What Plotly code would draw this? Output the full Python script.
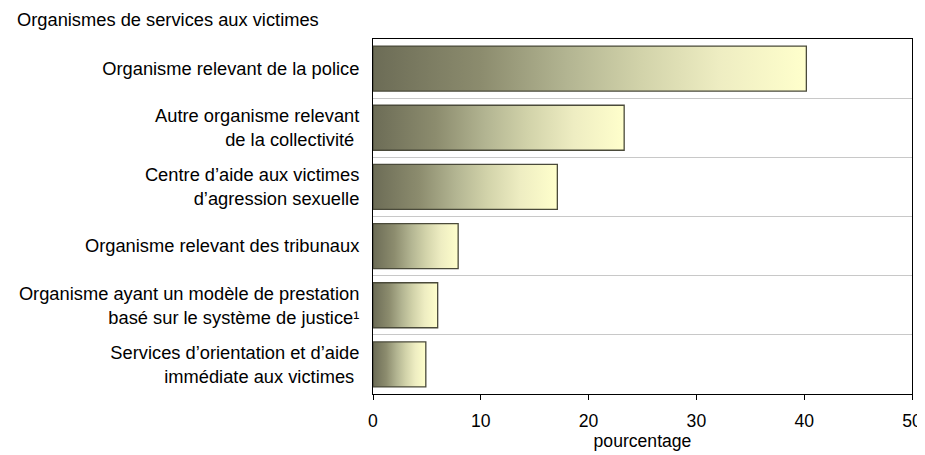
import plotly.graph_objects as go

categories = [
    "Organisme relevant de la police",
    "Autre organisme relevant<br>de la collectivité ",
    "Centre d’aide aux victimes<br>d’agression sexuelle",
    "Organisme relevant des tribunaux",
    "Organisme ayant un modèle de prestation<br>basé sur le système de justice¹",
    "Services d’orientation et d’aide<br>immédiate aux victimes ",
]
values = [40.2, 23.3, 17.1, 7.9, 6.0, 4.9]
x_ticks = [0, 10, 20, 30, 40, 50]

FONT = "Liberation Sans, Arial, sans-serif"
bar_w = 0.76
gradient = [[0, "#6c6c56"], [0.25, "#8c8c6e"], [0.45, "#b3b592"],
            [0.62, "#d2d3aa"], [0.8, "#eeedc2"], [1, "#ffffcc"]]

fig = go.Figure()
for i, v in enumerate(values):
    y0, y1 = i - bar_w / 2, i + bar_w / 2
    fig.add_trace(go.Scatter(
        x=[0, v, v, 0, 0], y=[y0, y0, y1, y1, y0],
        mode="lines", fill="toself",
        fillgradient=dict(type="horizontal", colorscale=gradient),
        line=dict(color="#4a4a3a", width=1.3),
        hoverinfo="skip", showlegend=False,
    ))

# the page body adds an 8px offset, so the margins compensate for it
fig.update_layout(
    width=925, height=455,
    margin=dict(l=365, r=21, t=31, b=69),
    paper_bgcolor="white", plot_bgcolor="white",
    font=dict(family=FONT, size=18, color="black"),
    title=dict(text="Organismes de services aux victimes", x=9/925, xanchor="left",
               xref="container", y=1 - 12/455, yref="container", yanchor="middle",
               font=dict(size=18.3, family=FONT, color="black")),
    xaxis=dict(range=[0, 50], tickvals=x_ticks, ticks="outside", ticklen=5,
               tickcolor="black", showgrid=False, zeroline=False, automargin=False,
               showline=True, linecolor="black", linewidth=1, mirror=True,
               ticklabelstandoff=6,
               title=dict(text="pourcentage", standoff=0, font=dict(size=17.6)),
               tickfont=dict(size=17.6)),
    yaxis=dict(range=[5.5, -0.5], tickvals=list(range(len(categories))),
               ticktext=categories, ticks="", showgrid=False, zeroline=False,
               automargin=False,
               showline=True, linecolor="black", linewidth=1, mirror=True,
               ticklabelstandoff=9,
               minor=dict(tickvals=[k + 0.5 for k in range(len(categories) - 1)],
                          showgrid=True, gridcolor="#c8c8c8", gridwidth=1, ticks=""),
               tickfont=dict(size=18.3)),
)

fig.write_html("out.html")
